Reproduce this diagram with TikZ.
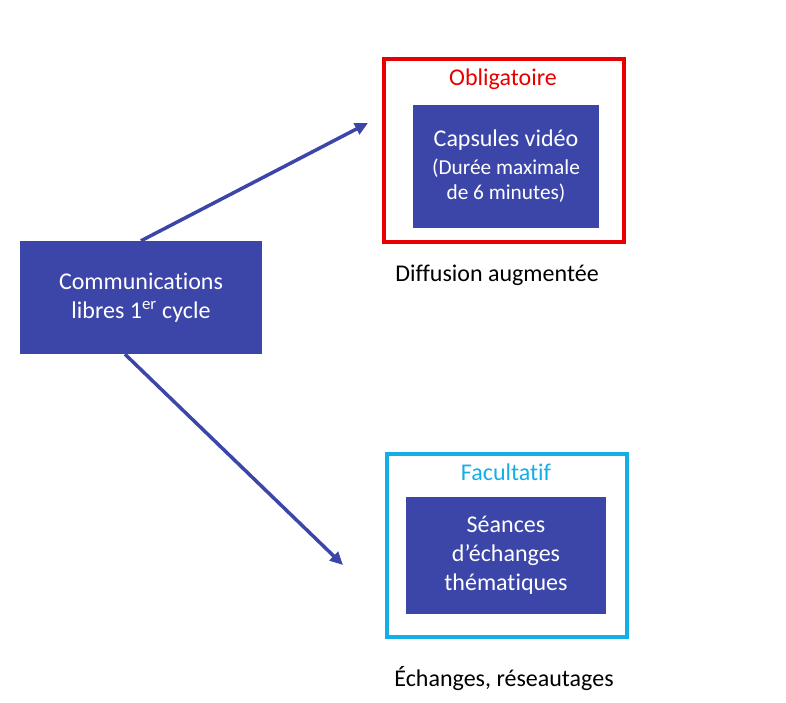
\documentclass[tikz,border=0pt]{standalone}
\usepackage{fontspec}
\setmainfont[Ligatures={NoCommon}]{Carlito}
\usetikzlibrary{arrows.meta}
\definecolor{boxblue}{RGB}{59,70,168}
\definecolor{oblred}{RGB}{232,0,0}
\definecolor{faccyan}{RGB}{20,174,230}
\tikzset{
  bluebox/.style={fill=boxblue, draw=none, inner sep=0pt, text=white, align=center,
    font=\fontsize{24}{29}\selectfont},
  frame/.style={draw=#1, line width=4pt, fill=none, inner sep=0pt},
  bigtxt/.style={font=\fontsize{24}{29}\selectfont, inner sep=0pt},
  smalltxt/.style={font=\fontsize{21.3}{25.5}\selectfont, inner sep=0pt, text=white},
  conn/.style={draw=boxblue, line width=3.5pt, -{Triangle[length=13pt,width=12pt]}}
}
\begin{document}
\begin{tikzpicture}[x=1pt,y=-1pt]
\useasboundingbox (0,0) rectangle (786,703);
% left box
\node[bluebox, minimum width=242pt, minimum height=113pt] (comm) at (141,297.5)
  {Communications\\libres 1\textsuperscript{er} cycle};
% top group
\node[frame=oblred, minimum width=240pt, minimum height=183pt] (oblframe) at (503.5,150.5) {};
\node[bigtxt, text=oblred] (obl) at (503,79) {Obligatoire};
\node[bluebox, minimum width=186pt, minimum height=123pt] (caps) at (506,166.5) {};
\node[bigtxt, text=white] (capst) at (506,140) {Capsules vidéo};
\node[smalltxt] (dur1) at (506,168) {(Durée maximale};
\node[smalltxt] (dur2) at (506,193) {de 6 minutes)};
\node[bigtxt] (diff) at (497,275) {Diffusion augmentée};
% bottom group
\node[frame=faccyan, minimum width=240pt, minimum height=183pt] (facframe) at (506.5,545.5) {};
\node[bigtxt, text=faccyan] (fac) at (506,472) {Facultatif};
\node[bluebox, minimum width=200pt, minimum height=117pt] (seances) at (506,555.5)
  {Séances\\d’échanges\\thématiques};
\node[bigtxt] (ech) at (504,679) {Échanges, réseautages};
% connectors
\coordinate (topend) at (368,123);
\coordinate (botend) at (343,565);
\coordinate (botstart) at ([xshift=-16pt]comm.south);
\draw[conn] (comm.north) -- (topend);
\draw[conn] (botstart) -- (botend);
\end{tikzpicture}
\end{document}
